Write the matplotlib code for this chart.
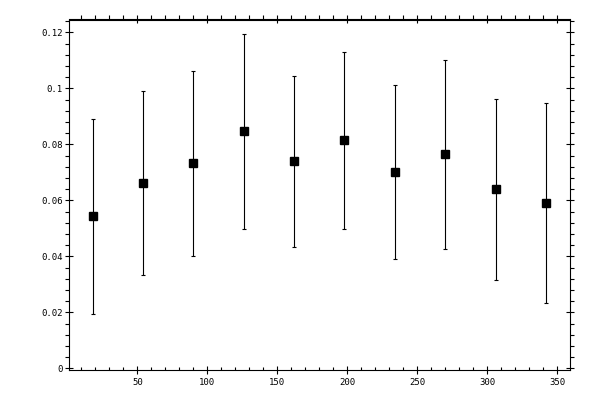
import matplotlib
matplotlib.use("Agg")
import matplotlib.pyplot as plt
from matplotlib.ticker import FixedLocator, MultipleLocator, FixedFormatter, NullFormatter

# Data
x_vals = [18, 54, 90, 126, 162, 198, 234, 270, 306, 342]
y_vals = [0.0543, 0.0661, 0.0732, 0.0846, 0.0739, 0.0814, 0.0700, 0.0764, 0.0639, 0.0589]
y_err = [0.0348, 0.0329, 0.0331, 0.0347, 0.0305, 0.0316, 0.0311, 0.0336, 0.0324, 0.0357]

x_ticks = [50, 100, 150, 200, 250, 300, 350]
x_tick_labels = ["50", "100", "150", "200", "250", "300", "350"]
y_ticks = [0, 0.02, 0.04, 0.06, 0.08, 0.1, 0.12]
y_tick_labels = ["0", "0.02", "0.04", "0.06", "0.08", "0.1", "0.12"]

lw = 0.8

fig = plt.figure(figsize=(6, 4), dpi=100)
ax = fig.add_axes([69 / 600, 30 / 400, 501 / 600, 350.5 / 400])

ax.errorbar(x_vals, y_vals, yerr=y_err, fmt="s", color="black", ecolor="black",
            markersize=5.2, elinewidth=lw, capsize=1.6, capthick=lw)

ax.set_xlim(1.2, 359.1)
ax.set_ylim(-0.0006, 0.1246)

for s in ax.spines.values():
    s.set_linewidth(lw)
    s.set_color("black")

ax.xaxis.set_major_locator(FixedLocator(x_ticks))
ax.xaxis.set_major_formatter(FixedFormatter(x_tick_labels))
ax.xaxis.set_minor_locator(MultipleLocator(10))
ax.yaxis.set_major_locator(FixedLocator(y_ticks))
ax.yaxis.set_major_formatter(FixedFormatter(y_tick_labels))
ax.yaxis.set_minor_locator(MultipleLocator(0.004))

ax.tick_params(axis="x", which="major", direction="inout", length=5.5, width=lw,
               bottom=True, top=False, pad=3, labelsize=6.5)
ax.tick_params(axis="x", which="minor", direction="in", length=2.5, width=lw,
               bottom=True, top=False)
ax.tick_params(axis="y", which="major", direction="inout", length=5.5, width=lw,
               left=True, right=True, pad=2, labelsize=6.5)
ax.tick_params(axis="y", which="minor", direction="out", length=2.8, width=lw,
               left=True, right=True)

for lab in ax.get_xticklabels() + ax.get_yticklabels():
    lab.set_fontfamily("DejaVu Sans Mono")

# Top axis with outward minor ticks
sec = ax.secondary_xaxis("top")
sec.xaxis.set_major_locator(FixedLocator(x_ticks))
sec.xaxis.set_minor_locator(MultipleLocator(10))
sec.xaxis.set_major_formatter(NullFormatter())
sec.tick_params(which="major", direction="inout", length=5.5, width=lw)
sec.tick_params(which="minor", direction="out", length=2.8, width=lw)
sec.spines["top"].set_linewidth(lw)

fig.savefig("out.png", dpi=100, facecolor="white")
